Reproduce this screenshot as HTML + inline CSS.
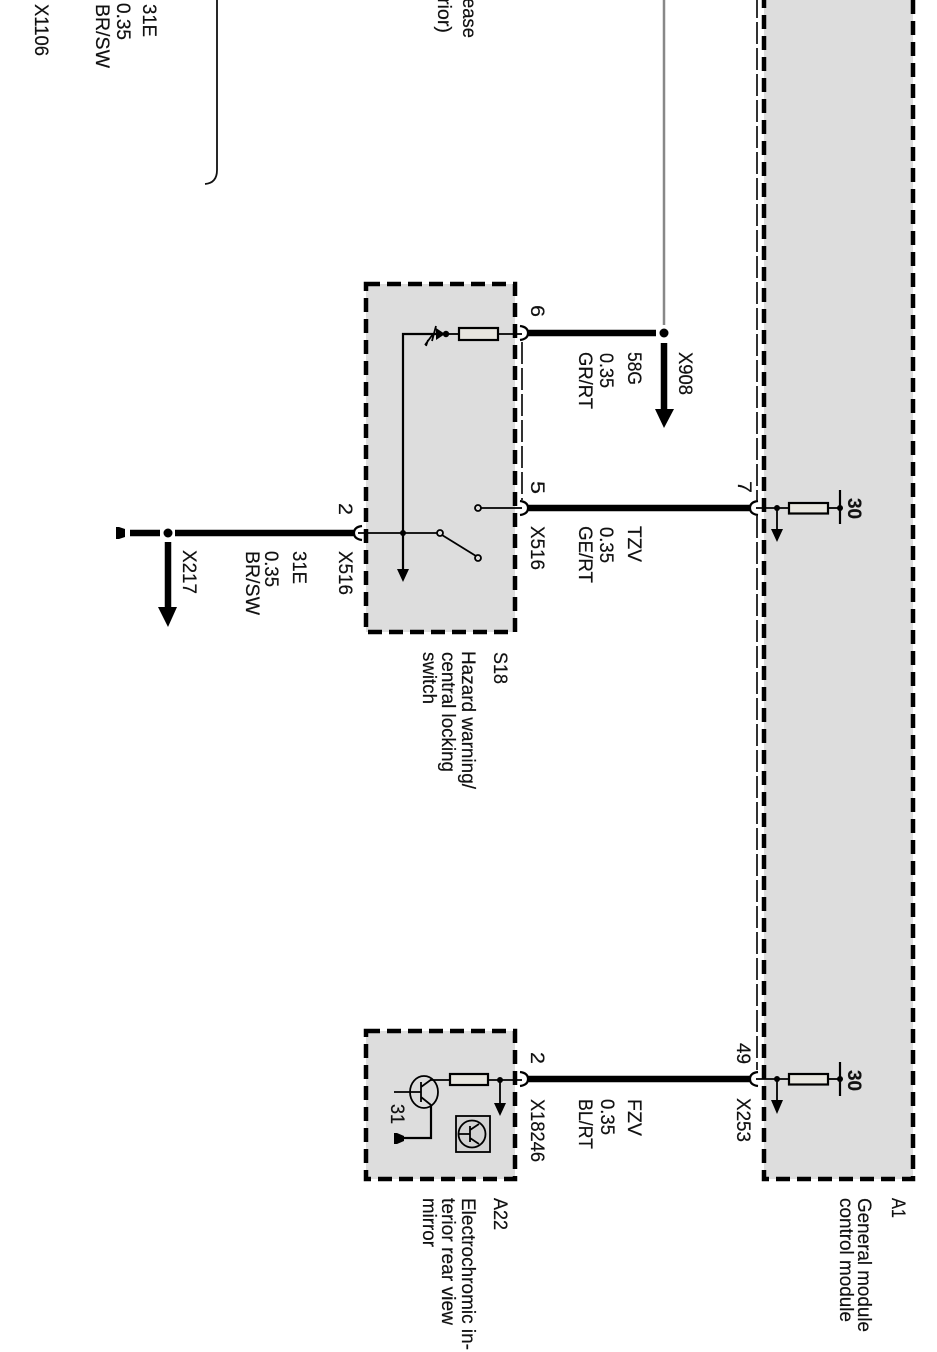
<!DOCTYPE html>
<html><head><meta charset="utf-8"><style>
html,body{margin:0;padding:0;background:#fff;width:937px;height:1352px;overflow:hidden}
svg{display:block}
text{font-family:"Liberation Sans",sans-serif;font-size:19.5px;fill:#111;stroke:#111;stroke-width:.2}
</style></head><body>
<svg width="937" height="1352" viewBox="0 0 937 1352" xmlns="http://www.w3.org/2000/svg">
<!-- boxes -->
<g fill="#dddddd" stroke="#000" stroke-width="4.500" stroke-dasharray="14 7">
<path d="M764,-6 V1179 H913 V-6"/>
<rect x="366" y="284" width="149" height="348"/>
<rect x="366" y="1031" width="149" height="148"/>
</g>
<!-- thin dashed -->
<g fill="none" stroke="#000" stroke-width="1.600" stroke-dasharray="22 4">
<path d="M522,342 V500"/>
<path d="M757,-4 V500"/>
<path d="M757,516 V1070"/>
</g>
<!-- heavy wires -->
<g stroke="#000" stroke-width="6.500" fill="none">
<path d="M527,333 H656"/>
<path d="M527,508 H752"/>
<path d="M527,1079 H752"/>
<path d="M130,533 H160"/>
<path d="M175,533 H356"/>
<path d="M664,343 V412"/>
<path d="M168,542 V610"/>
</g>
<path d="M664,0 V325" stroke="#888" stroke-width="2.500"/>
<path d="M217,0 V170 Q217,183 205,184" fill="none" stroke="#111" stroke-width="1.800"/>
<circle cx="664" cy="333" r="4.500"/>
<circle cx="168" cy="533" r="4.500"/>
<path d="M655,409 H674 L664,428Z"/>
<path d="M158,607 H177 L168,627Z"/>
<!-- ground at left -->
<path d="M116,527 V539 H119 L125,537 V529 L119,527Z"/>
<!-- plug arcs -->
<g fill="#fff" stroke="#000" stroke-width="2.200">
<path d="M520,326 Q528,327 528,333 Q528,339 520,340Z" stroke="none"/>
<path d="M520,501 Q528,502 528,508 Q528,514 520,515Z" stroke="none"/>
<path d="M520,1072 Q528,1073 528,1079 Q528,1085 520,1086Z" stroke="none"/>
<path d="M758,501 Q750,502 750,508 Q750,514 758,515Z" stroke="none"/>
<path d="M758,1072 Q750,1073 750,1079 Q750,1085 758,1086Z" stroke="none"/>
<path d="M362,526 Q354,527 354,533 Q354,539 362,540Z" stroke="none"/>
</g>
<g fill="none" stroke="#000" stroke-width="2.200">
<path d="M520,326 Q528,327 528,333 Q528,339 520,340"/>
<path d="M520,501 Q528,502 528,508 Q528,514 520,515"/>
<path d="M520,1072 Q528,1073 528,1079 Q528,1085 520,1086"/>
<path d="M758,501 Q750,502 750,508 Q750,514 758,515"/>
<path d="M758,1072 Q750,1073 750,1079 Q750,1085 758,1086"/>
<path d="M362,526 Q354,527 354,533 Q354,539 362,540"/>
</g>
<!-- S18 internals -->
<g fill="none" stroke="#000" stroke-width="1.800">
<path d="M522,334 H498"/>
<rect x="459" y="328" width="39" height="12" fill="#e8e6df" stroke-width="2.200"/>
<path d="M459,334 H445"/>
<path d="M437,334 H403 V572" stroke-width="2.200"/>
<path d="M436,326 L432,341 M433,334 L425,345 M428,340 L426,346"/>
<path d="M522,508 H481"/>
<circle cx="478" cy="508" r="3"/>
<circle cx="478" cy="558" r="3"/>
<circle cx="440" cy="533" r="3"/>
<path d="M442,535 L476,556"/>
<path d="M358,533 H437"/>
</g>
<path d="M436,328 L445,334 L436,340Z" fill="#000"/>
<circle cx="446" cy="334" r="3.200"/>
<circle cx="403" cy="533" r="3"/>
<path d="M397,569 H409 L403,582Z"/>
<!-- A1 internals 7 -->
<g fill="none" stroke="#000" stroke-width="1.800">
<path d="M756,508 H789"/>
<rect x="789" y="503" width="39" height="10.500" fill="#e8e6df" stroke-width="2.200"/>
<path d="M828,508 H840"/>
<path d="M840,490 V524" stroke-width="2.200"/>
<path d="M777,508 V532"/>
</g>
<circle cx="777" cy="508" r="3"/><circle cx="840" cy="508" r="3"/>
<path d="M771,529 H783 L777,542Z"/>
<g fill="none" stroke="#000" stroke-width="1.800">
<path d="M756,1079 H789"/>
<rect x="789" y="1074" width="39" height="10.500" fill="#e8e6df" stroke-width="2.200"/>
<path d="M828,1079 H840"/>
<path d="M840,1062 V1096" stroke-width="2.200"/>
<path d="M777,1079 V1103"/>
</g>
<circle cx="777" cy="1079" r="3"/><circle cx="840" cy="1079" r="3"/>
<path d="M771,1100 H783 L777,1114Z"/>
<!-- A22 internals -->
<g fill="none" stroke="#000" stroke-width="1.800">
<path d="M522,1080 H489"/>
<rect x="450" y="1074" width="38" height="11" fill="#e8e6df" stroke-width="2.200"/>
<path d="M450,1080 H430"/>
<path d="M500,1080 V1105"/>
<ellipse cx="424" cy="1092" rx="14" ry="16"/>
<path d="M394,1092 H421" />
<path d="M421,1082 V1102 M421,1087 L432,1079 M421,1097 L431,1105"/>
<path d="M431,1105 V1138 H399" stroke-width="2.200"/>
<rect x="456" y="1116" width="34" height="36" fill="#d4d4d4"/>
<circle cx="472" cy="1134" r="13.500"/>
<path d="M459,1134 H470 M470,1126 V1142 M470,1130 L479,1124 M470,1138 L479,1144"/>
</g>
<circle cx="500" cy="1080" r="3"/>
<path d="M494,1103 H506 L500,1116Z"/>
<path d="M394,1133 V1144 H397 L404,1141 V1136 L397,1133Z"/>
<!-- labels -->
<g>
<text lengthAdjust="spacingAndGlyphs" transform="translate(531,305) rotate(90)" textLength="12">6</text>
<text lengthAdjust="spacingAndGlyphs" transform="translate(679,352) rotate(90)" textLength="43">X908</text>
<text lengthAdjust="spacingAndGlyphs" transform="translate(628,352) rotate(90)" textLength="33">58G</text>
<text lengthAdjust="spacingAndGlyphs" transform="translate(600,353) rotate(90)" textLength="35">0.35</text>
<text lengthAdjust="spacingAndGlyphs" transform="translate(579,352) rotate(90)" textLength="57">GR/RT</text>
<text lengthAdjust="spacingAndGlyphs" transform="translate(531,481) rotate(90)" textLength="13">5</text>
<text lengthAdjust="spacingAndGlyphs" transform="translate(531,526) rotate(90)" textLength="44">X516</text>
<text lengthAdjust="spacingAndGlyphs" transform="translate(628,526) rotate(90)" textLength="36">TZV</text>
<text lengthAdjust="spacingAndGlyphs" transform="translate(600,527) rotate(90)" textLength="36">0.35</text>
<text lengthAdjust="spacingAndGlyphs" transform="translate(579,526) rotate(90)" textLength="57">GE/RT</text>
<text lengthAdjust="spacingAndGlyphs" transform="translate(738,481) rotate(90)" textLength="12">7</text>
<text lengthAdjust="spacingAndGlyphs" transform="translate(339,503) rotate(90)" textLength="12">2</text>
<text lengthAdjust="spacingAndGlyphs" transform="translate(339,551) rotate(90)" textLength="44">X516</text>
<text lengthAdjust="spacingAndGlyphs" transform="translate(293,551) rotate(90)" textLength="33">31E</text>
<text lengthAdjust="spacingAndGlyphs" transform="translate(265,551) rotate(90)" textLength="36">0.35</text>
<text lengthAdjust="spacingAndGlyphs" transform="translate(246,551) rotate(90)" textLength="64">BR/SW</text>
<text lengthAdjust="spacingAndGlyphs" transform="translate(183,550) rotate(90)" textLength="44">X217</text>
<text lengthAdjust="spacingAndGlyphs" transform="translate(494,652) rotate(90)" textLength="32">S18</text>
<text lengthAdjust="spacingAndGlyphs" transform="translate(462,651) rotate(90)" textLength="138">Hazard warning/</text>
<text lengthAdjust="spacingAndGlyphs" transform="translate(442,652) rotate(90)" textLength="120">central locking</text>
<text lengthAdjust="spacingAndGlyphs" transform="translate(423,652) rotate(90)" textLength="52">switch</text>
<text lengthAdjust="spacingAndGlyphs" transform="translate(848,498) rotate(90)" font-weight="bold" textLength="21">30</text>
<text lengthAdjust="spacingAndGlyphs" transform="translate(848,1070) rotate(90)" font-weight="bold" textLength="21">30</text>
<text lengthAdjust="spacingAndGlyphs" transform="translate(737,1043) rotate(90)" textLength="21">49</text>
<text lengthAdjust="spacingAndGlyphs" transform="translate(737,1098) rotate(90)" textLength="44">X253</text>
<text lengthAdjust="spacingAndGlyphs" transform="translate(531,1052) rotate(90)" textLength="12">2</text>
<text lengthAdjust="spacingAndGlyphs" transform="translate(531,1099) rotate(90)" textLength="63">X18246</text>
<text lengthAdjust="spacingAndGlyphs" transform="translate(628,1099) rotate(90)" textLength="37">FZV</text>
<text lengthAdjust="spacingAndGlyphs" transform="translate(601,1099) rotate(90)" textLength="36">0.35</text>
<text lengthAdjust="spacingAndGlyphs" transform="translate(579,1099) rotate(90)" textLength="50">BL/RT</text>
<text lengthAdjust="spacingAndGlyphs" transform="translate(391,1104) rotate(90)" textLength="20">31</text>
<text lengthAdjust="spacingAndGlyphs" transform="translate(494,1198) rotate(90)" textLength="32">A22</text>
<text lengthAdjust="spacingAndGlyphs" transform="translate(462,1198) rotate(90)" textLength="152">Electrochromic in-</text>
<text lengthAdjust="spacingAndGlyphs" transform="translate(442,1198) rotate(90)" textLength="127">terior rear view</text>
<text lengthAdjust="spacingAndGlyphs" transform="translate(423,1198) rotate(90)" textLength="49">mirror</text>
<text lengthAdjust="spacingAndGlyphs" transform="translate(892,1198) rotate(90)" textLength="20">A1</text>
<text lengthAdjust="spacingAndGlyphs" transform="translate(858,1198) rotate(90)" textLength="134">General module</text>
<text lengthAdjust="spacingAndGlyphs" transform="translate(840,1198) rotate(90)" textLength="124">control module</text>
<text lengthAdjust="spacingAndGlyphs" transform="translate(143,4) rotate(90)" textLength="33">31E</text>
<text lengthAdjust="spacingAndGlyphs" transform="translate(117,3) rotate(90)" textLength="37">0.35</text>
<text lengthAdjust="spacingAndGlyphs" transform="translate(96,4) rotate(90)" textLength="64">BR/SW</text>
<text lengthAdjust="spacingAndGlyphs" transform="translate(35,4) rotate(90)" textLength="52">X1106</text>
<text lengthAdjust="spacingAndGlyphs" transform="translate(463,-2) rotate(90)" textLength="40">ease</text>
<text lengthAdjust="spacingAndGlyphs" transform="translate(438,-2) rotate(90)" textLength="35">rior)</text>
</g>
</svg>
</body></html>
